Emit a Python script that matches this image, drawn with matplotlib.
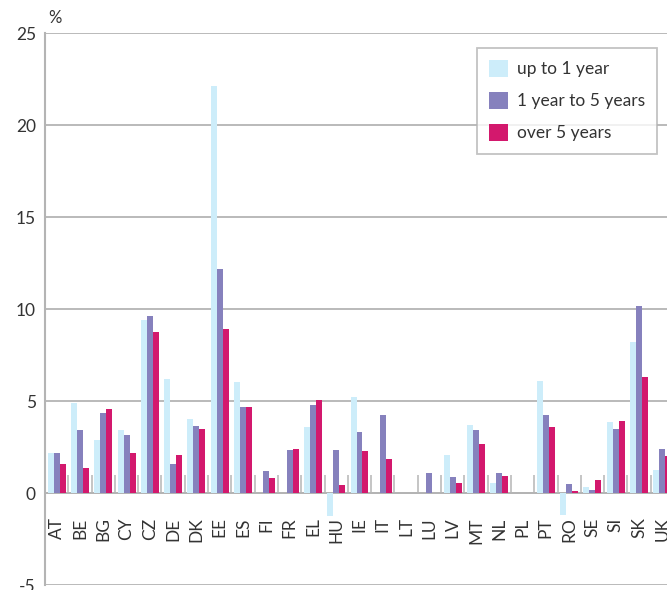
import numpy as np
import matplotlib.pyplot as plt

plt.rcParams['font.family'] = ['Lato', 'DejaVu Sans']

# Données
countries = ["AT", "BE", "BG", "CY", "CZ", "DE", "DK", "EE", "ES", "FI", "FR", "EL", "HU",
             "IE", "IT", "LT", "LU", "LV", "MT", "NL", "PL", "PT", "RO", "SE", "SI", "SK", "UK"]
up_to_1 = [2.2, 4.88, 2.86, 3.4, 9.41, 6.19, 4.0, 22.1, 6.02, 0, 0, 3.57, -1.24,
           5.2, 0, 0, 0, 2.04, 3.68, 0.56, 0, 6.08, -1.18, 0.35, 3.84, 8.21, 1.27]
one_to_5 = [2.15, 3.4, 4.33, 3.13, 9.62, 1.6, 3.62, 12.19, 4.66, 1.22, 2.31, 4.77, 2.31,
            3.29, 4.22, 0, 1.06, 0.89, 3.4, 1.11, 0, 4.22, 0.51, 0.18, 3.46, 10.17, 2.37]
over_5 = [1.6, 1.38, 4.55, 2.2, 8.75, 2.09, 3.46, 8.92, 4.66, 0.84, 2.37, 5.04, 0.45,
          2.26, 1.87, 0, 0, 0.56, 2.64, 0.95, 0, 3.57, 0.13, 0.73, 3.89, 6.3, 2.0]
labels = ["up to 1 year", "1 year to 5 years", "over 5 years"]
colors = ["#cdedfa", "#8681bd", "#d3186d"]
yticks = [-5, 0, 5, 10, 15, 20, 25]

W, H = 667, 590
fig = plt.figure(figsize=(W / 100, H / 100), dpi=100)
ax = fig.add_axes([45 / W, 5 / H, 629 / W, 552 / H])

x = np.arange(len(countries))
w = 0.257
for i, (vals, lab, col) in enumerate(zip([up_to_1, one_to_5, over_5], labels, colors)):
    ax.bar(x + (i - 1) * w, vals, width=w, color=col, label=lab, zorder=3)

ax.set_xlim(-0.5, len(countries) - 0.5)
ax.set_ylim(-5, 25)
ax.set_yticks(yticks)
ax.set_yticklabels([str(t) for t in yticks], fontsize=12.5, color="#333333")
ax.yaxis.grid(True, color="#b4b4b4", linewidth=1.3, zorder=0)
ax.tick_params(axis='y', length=0, pad=6.5)

for s in ["top", "right"]:
    ax.spines[s].set_visible(False)
ax.spines["left"].set_color("#b4b4b4")
ax.spines["left"].set_linewidth(1.5)
ax.spines["bottom"].set_position(("data", 0))
ax.spines["bottom"].set_color("#b4b4b4")
ax.spines["bottom"].set_linewidth(1.3)

ax.set_xticks(x)
ax.set_xticklabels(countries, rotation=90, fontsize=12.5, color="#333333")
ax.set_xticks(np.arange(len(countries) + 1) - 0.5, minor=True)
ax.tick_params(axis='x', which='minor', direction='in', length=13, width=1.3, color="#c0c0c0")
ax.tick_params(axis='x', which='major', length=0, pad=17.5)

fig.text(48 / W, 1 - 18 / H, "%", fontsize=12, color="#333333", va='center', ha='left')

leg = ax.legend(loc='upper left', bbox_to_anchor=(477 / W, 1 - 48 / H), bbox_transform=fig.transFigure,
                fontsize=12.5, frameon=True, fancybox=False, handlelength=1.1, handleheight=1.1,
                labelspacing=0.85, borderpad=0.7, handletextpad=0.5, borderaxespad=0)
leg.get_frame().set_edgecolor("#b4b4b4")
leg.get_frame().set_linewidth(1.3)
for t in leg.get_texts():
    t.set_color("#333333")

fig.savefig("out.png", dpi=100)
